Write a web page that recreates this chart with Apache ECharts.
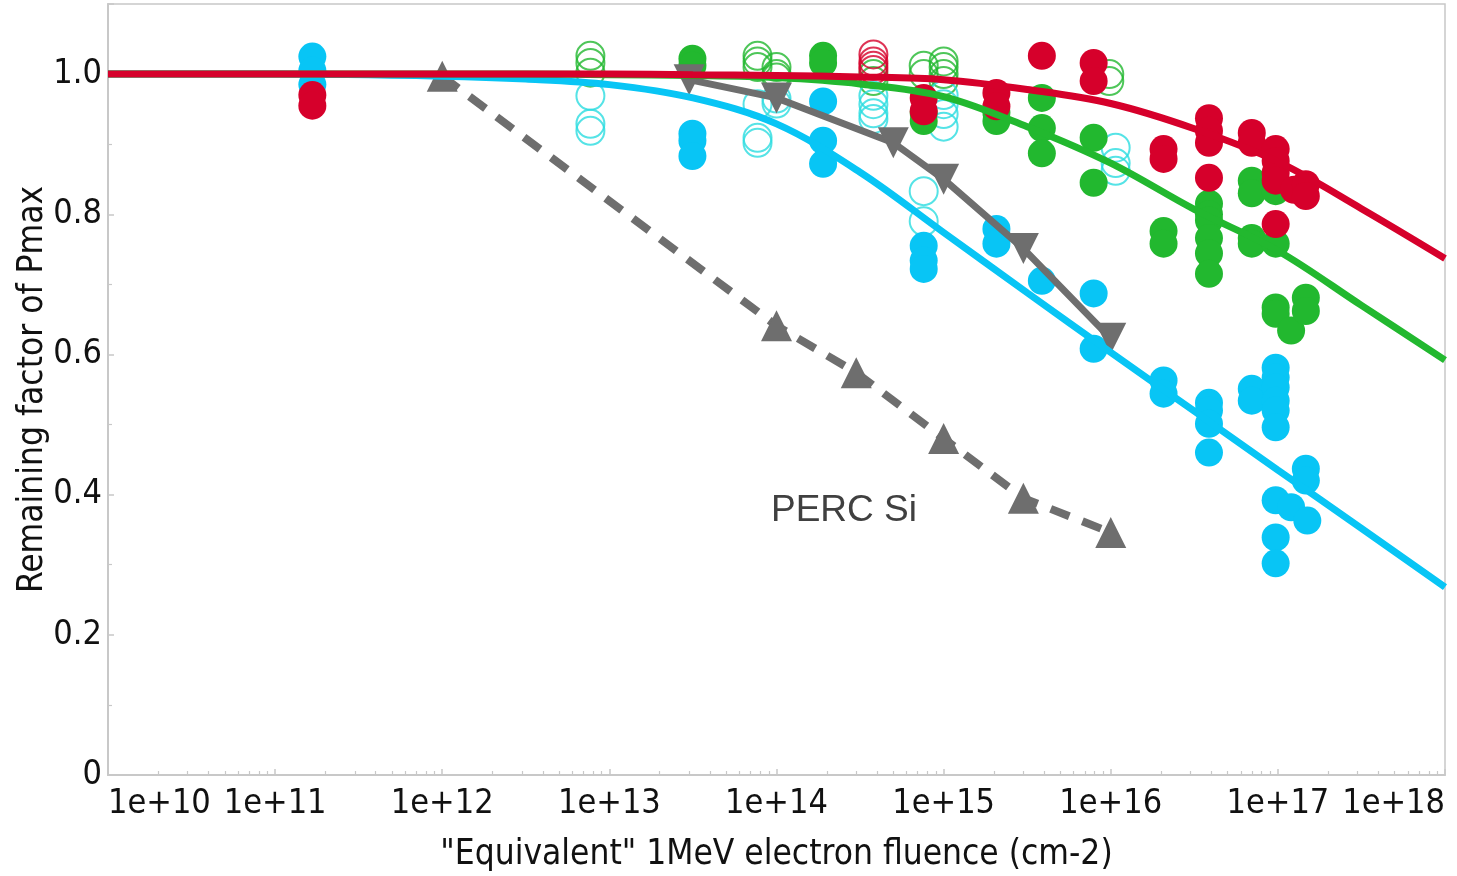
<!DOCTYPE html>
<html>
<head>
<meta charset="utf-8">
<script src="https://cdn.jsdelivr.net/npm/echarts@6/dist/echarts.min.js"></script>
<style>
html,body{margin:0;padding:0;background:#fff;}
#chart{width:1457px;height:876px;}
</style>
</head>
<body>
<div id="chart"></div>
<script>
// ---------- data ----------
const xTickLabels = ['1e+10','1e+11','1e+12','1e+13','1e+14','1e+15','1e+16','1e+17','1e+18'];
const yTickLabels = ['0','0.2','0.4','0.6','0.8','1.0'];

// fitted curves, sampled every half decade
const curveX = [1e10, 1e11, 1e12, 3.162e12, 1e13, 3.162e13, 1e14, 3.162e14, 1e15, 3.162e15, 1e16, 3.162e16, 1e17, 3.162e17, 1e18];
const redFit   = [1.0, 1.0, 1.0, 1.0, 1.0, 0.999, 0.998, 0.996, 0.992, 0.978, 0.958, 0.922, 0.875, 0.808, 0.737];
const greenFit = [1.0, 1.0, 1.0, 1.0, 0.999, 0.998, 0.995, 0.986, 0.968, 0.925, 0.873, 0.807, 0.748, 0.670, 0.592];
const blueFit  = [1.0, 1.0, 0.997, 0.993, 0.985, 0.966, 0.929, 0.860, 0.774, 0.688, 0.603, 0.519, 0.435, 0.352, 0.268];

// PERC Si reference (dashed, up triangles)
const percX = [1e12, 1e14, 3e14, 1e15, 3e15, 1e16];
const percY = [0.997, 0.641, 0.574, 0.480, 0.395, 0.346];
// second grey reference (solid, down triangles)
const greyX = [3e13, 1e14, 5e14, 1e15, 3e15, 1e16];
const greyY = [0.992, 0.966, 0.902, 0.850, 0.751, 0.623];

// measured points [fluence, remaining factor]
const redFilled = [
  [1.67e11,0.970],[1.67e11,0.955],
  [7.6e14,0.966],[7.6e14,0.947],
  [2.07e15,0.973],[2.07e15,0.954],
  [3.87e15,1.026],
  [7.9e15,1.016],[7.9e15,0.990],
  [2.07e16,0.893],[2.07e16,0.879],
  [3.87e16,0.937],[3.87e16,0.919],[3.87e16,0.902],[3.87e16,0.852],
  [6.98e16,0.916],[6.98e16,0.902],
  [9.7e16,0.893],[9.7e16,0.876],[9.7e16,0.859],[9.7e16,0.848],[9.7e16,0.786],
  [1.25e17,0.835],[1.47e17,0.843],[1.47e17,0.826]
];
const redHollow = [
  [3.8e14,1.028],[3.8e14,1.018],[3.8e14,1.012],[3.8e14,1.006]
];
const greenFilled = [
  [3.14e13,1.022],[3.14e13,1.012],
  [1.9e14,1.026],[1.9e14,1.016],
  [7.6e14,0.945],[7.6e14,0.933],
  [2.07e15,0.945],[2.07e15,0.933],
  [3.87e15,0.966],[3.87e15,0.923],[3.87e15,0.887],
  [7.9e15,0.909],[7.9e15,0.845],
  [2.07e16,0.776],[2.07e16,0.758],
  [3.87e16,0.815],[3.87e16,0.800],[3.87e16,0.791],[3.87e16,0.766],[3.87e16,0.744],[3.87e16,0.715],
  [6.98e16,0.848],[6.98e16,0.830],[6.98e16,0.766],[6.98e16,0.758],
  [9.7e16,0.833],[9.7e16,0.758],[9.7e16,0.667],[9.7e16,0.658],
  [1.2e17,0.634],[1.47e17,0.681],[1.47e17,0.662]
];
const greenHollow = [
  [7.7e12,1.026],[7.7e12,1.016],[7.7e12,1.002],
  [7.7e13,1.026],[7.7e13,1.018],[7.7e13,1.010],
  [1e14,1.010],[1e14,1.000],[1e14,0.995],
  [3.8e14,1.000],[3.8e14,0.990],
  [7.6e14,1.012],[7.6e14,1.000],
  [1e15,1.018],[1e15,1.010],[1e15,1.000],[1e15,0.990],
  [9.8e15,1.000],[9.8e15,0.990]
];
const blueFilled = [
  [1.67e11,1.025],[1.67e11,1.005],[1.67e11,0.985],
  [3.14e13,0.915],[3.14e13,0.905],[3.14e13,0.883],
  [1.9e14,0.961],[1.9e14,0.905],[1.9e14,0.872],
  [7.6e14,0.755],[7.6e14,0.734],[7.6e14,0.722],
  [2.07e15,0.779],[2.07e15,0.758],
  [3.87e15,0.705],
  [7.9e15,0.687],[7.9e15,0.608],
  [2.07e16,0.563],[2.07e16,0.544],
  [3.87e16,0.531],[3.87e16,0.520],[3.87e16,0.501],[3.87e16,0.460],
  [6.98e16,0.551],[6.98e16,0.534],
  [9.7e16,0.581],[9.7e16,0.567],[9.7e16,0.553],[9.7e16,0.534],[9.7e16,0.520],[9.7e16,0.496],
  [9.7e16,0.392],[9.7e16,0.339],[9.7e16,0.302],
  [1.2e17,0.382],[1.47e17,0.437],[1.47e17,0.420],[1.5e17,0.363]
];
const blueHollow = [
  [7.7e12,0.969],[7.7e12,0.929],[7.7e12,0.919],
  [7.7e13,0.957],[7.7e13,0.909],[7.7e13,0.902],
  [1e14,0.965],[1e14,0.958],
  [3.8e14,0.969],[3.8e14,0.957],[3.8e14,0.944],[3.8e14,0.936],
  [7.6e14,0.833],[7.6e14,0.790],
  [1e15,0.970],[1e15,0.957],[1e15,0.943],[1e15,0.925],
  [1.07e16,0.895],[1.07e16,0.873],[1.07e16,0.862]
];
const minorTickValues = [];
for (let e = 10; e < 18; e++) for (let k = 2; k <= 9; k++) minorTickValues.push(k * Math.pow(10, e));

// ---------- styles ----------
const RED = '#d6002b', GREEN = '#22b82f', BLUE = '#08c5f5', CYAN = '#2adce0', GREY = '#6e6e6e';
const AXISC = '#c8c8c8';
const NARROW = '"Liberation Sans Narrow","DejaVu Sans Condensed","Roboto Condensed","Liberation Sans",sans-serif';

const zip = (xs, ys) => xs.map((x, i) => [x, ys[i]]);
const xLabelMap = {};
xTickLabels.forEach((t, i) => { xLabelMap[10 + i] = t; });

function hollow(data, color, z) {
  return { type: 'scatter', data, symbol: 'circle', symbolSize: 28, z,
    itemStyle: { color: 'rgba(0,0,0,0)', borderColor: color, borderWidth: 2 }, silent: true };
}
function filled(data, color, z) {
  return { type: 'scatter', data, symbol: 'circle', symbolSize: 28, z,
    itemStyle: { color, opacity: 1 }, silent: true };
}
function fit(ys, color, z) {
  return { type: 'line', data: zip(curveX, ys), showSymbol: false, symbol: 'none', smooth: 0.35, z,
    lineStyle: { color, width: 7 }, silent: true };
}

const chart = echarts.init(document.getElementById('chart'), null, { renderer: 'canvas' });
chart.setOption({
  animation: false,
  backgroundColor: '#fff',
  grid: { left: 108, right: 12, top: 4, bottom: 101, show: true, borderColor: AXISC, borderWidth: 1.5,
    backgroundColor: 'transparent', containLabel: false, outerBoundsMode: 'none' },
  xAxis: [{
    type: 'log', logBase: 10, min: 1e10, max: 1e18,
    name: '"Equivalent" 1MeV electron fluence (cm-2)', nameLocation: 'middle', nameGap: 62,
    nameTextStyle: { fontFamily: NARROW, fontSize: 35, color: '#111' },
    axisLine: { show: true, lineStyle: { color: AXISC, width: 2 } },
    axisTick: { show: true, inside: true, length: 6, lineStyle: { color: AXISC, width: 1.5 } },
    axisLabel: { fontFamily: NARROW, fontSize: 34, color: '#111', margin: 12,
      showMinLabel: true, showMaxLabel: true, hideOverlap: false,
      alignMinLabel: 'left', alignMaxLabel: 'right',
      formatter: v => xLabelMap[Math.round(Math.log10(v))] || '' },
    splitLine: { show: false }
  }, {
    type: 'log', logBase: 10, min: 1e10, max: 1e18, position: 'bottom',
    axisLine: { show: false },
    axisTick: { show: true, inside: true, length: 4, customValues: minorTickValues, lineStyle: { color: AXISC, width: 1.2 } },
    axisLabel: { show: false },
    splitLine: { show: false }
  }],
  yAxis: {
    type: 'value', min: 0, max: 1.1, interval: 0.2,
    name: 'Remaining factor of Pmax', nameLocation: 'middle', nameGap: 58, nameMoveOverlap: false,
    nameTextStyle: { fontFamily: NARROW, fontSize: 35, color: '#111' },
    axisLine: { show: true, lineStyle: { color: AXISC, width: 2 } },
    axisTick: { show: true, inside: true, length: 6, lineStyle: { color: AXISC, width: 1.5 } },
    minorTick: { show: true, splitNumber: 2, length: 4, lineStyle: { color: AXISC, width: 1.2 } },
    axisLabel: { fontFamily: NARROW, fontSize: 34, color: '#111', margin: 6, showMinLabel: true,
      formatter: v => { const i = Math.round(v / 0.2); return (Math.abs(v - i * 0.2) < 1e-6 && yTickLabels[i]) ? yTickLabels[i] : ''; } },
    splitLine: { show: false }
  },
  graphic: [{
    type: 'text', left: 771, top: 492, z: 100,
    style: { text: 'PERC Si', font: '37px "Liberation Sans", Arial, sans-serif', fill: '#404040' }
  }],
  series: [
    hollow(greenHollow, GREEN, 2),
    hollow(redHollow, RED, 2),
    hollow(blueHollow, CYAN, 2),
    filled(greenFilled, GREEN, 3),
    filled(blueFilled, BLUE, 3),
    filled(redFilled, RED, 4),
    { type: 'line', data: zip(percX, percY), symbol: 'triangle', symbolSize: 31, z: 5, silent: true,
      itemStyle: { color: GREY }, lineStyle: { color: GREY, width: 8, type: [20, 14] } },
    { type: 'line', data: zip(greyX, greyY), symbol: 'triangle', symbolRotate: 180, symbolSize: 31, z: 5, silent: true,
      itemStyle: { color: GREY }, lineStyle: { color: GREY, width: 7 } },
    fit(blueFit, BLUE, 6),
    fit(greenFit, GREEN, 7),
    fit(redFit, RED, 8)
  ]
});
</script>
</body>
</html>
